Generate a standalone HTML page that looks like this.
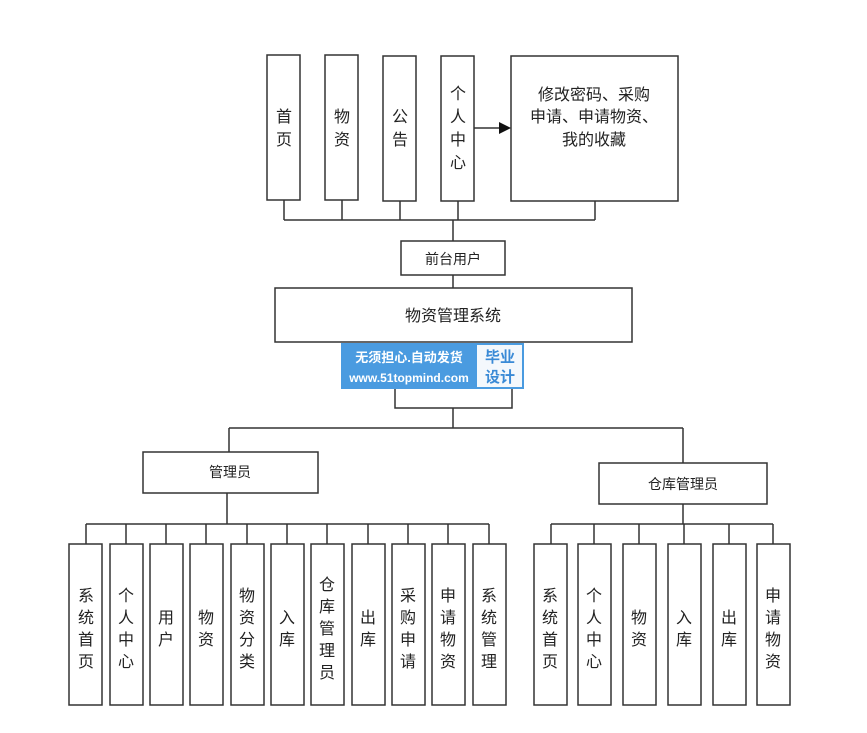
<!DOCTYPE html>
<html><head><meta charset="utf-8"><style>html,body{margin:0;padding:0;background:#fff}svg{display:block}</style></head>
<body>
<svg width="867" height="733" viewBox="0 0 867 733" xmlns="http://www.w3.org/2000/svg" font-family="'Liberation Sans','Noto Sans CJK SC',sans-serif" font-size="16" fill="#222">
<g stroke="#333" stroke-width="1.5" fill="#fff">
<rect x="267" y="55" width="33" height="145"/>
<rect x="325" y="55" width="33" height="145"/>
<rect x="383" y="56" width="33" height="145"/>
<rect x="441" y="56" width="33" height="145"/>
<rect x="511" y="56" width="167" height="145"/>
<rect x="401" y="241" width="104" height="34"/>
<rect x="275" y="288" width="357" height="54"/>
<rect x="143" y="452" width="175" height="41"/>
<rect x="599" y="463" width="168" height="41"/>
</g>
<g stroke="#333" stroke-width="1.5" fill="none">
<path d="M284 200V220M342 200V220M400 201V220M458 201V220M595 201V220M284 220H595M453 220V241M453 275V288"/>
<path d="M474 128H500"/>
<path d="M395 389V408H512V389M453 408V428M229 428H683M229 428V452M683 428V463"/>
<path d="M227 493V524M86 524H489M683 504V524M551 524H773"/>
<path d="M86 524V544M126 524V544M166 524V544M206 524V544M247 524V544M287 524V544M327 524V544M368 524V544M408 524V544M448 524V544M489 524V544"/>
<path d="M551 524V544M594 524V544M639 524V544M684 524V544M729 524V544M773 524V544"/>
</g>
<path d="M511 128L499 122V134Z" fill="#111"/>
<g stroke="#333" stroke-width="1.5" fill="#fff">
<rect x="69" y="544" width="33" height="161"/><rect x="110" y="544" width="33" height="161"/><rect x="150" y="544" width="33" height="161"/><rect x="190" y="544" width="33" height="161"/><rect x="231" y="544" width="33" height="161"/><rect x="271" y="544" width="33" height="161"/><rect x="311" y="544" width="33" height="161"/><rect x="352" y="544" width="33" height="161"/><rect x="392" y="544" width="33" height="161"/><rect x="432" y="544" width="33" height="161"/><rect x="473" y="544" width="33" height="161"/>
<rect x="534" y="544" width="33" height="161"/><rect x="578" y="544" width="33" height="161"/><rect x="623" y="544" width="33" height="161"/><rect x="668" y="544" width="33" height="161"/><rect x="713" y="544" width="33" height="161"/><rect x="757" y="544" width="33" height="161"/>
</g>
<rect x="341" y="343" width="183" height="46" fill="#4a9be0"/>
<rect x="477" y="345" width="45" height="42" fill="#f4f8fc"/>
<text x="409" y="362" fill="#fff" font-size="13" font-weight="bold" text-anchor="middle">无须担心.自动发货</text>
<text x="409" y="382" fill="#fff" font-size="12" font-weight="bold" text-anchor="middle">www.51topmind.com</text>
<text x="500" y="362" fill="#3a8ad6" font-size="15" font-weight="bold" text-anchor="middle">毕业</text>
<text x="500" y="382" fill="#3a8ad6" font-size="15" font-weight="bold" text-anchor="middle">设计</text>
<g text-anchor="middle">
<text x="594" y="100">修改密码、采购</text>
<text x="594" y="122">申请、申请物资、</text>
<text x="594" y="145">我的收藏</text>
<text x="453" y="264" font-size="14">前台用户</text>
<text x="453" y="321">物资管理系统</text>
<text x="230" y="477" font-size="14">管理员</text>
<text x="683" y="489" font-size="14">仓库管理员</text>
</g>
<g text-anchor="middle">
<text x="284" y="122">首</text><text x="284" y="145">页</text>
<text x="342" y="122">物</text><text x="342" y="145">资</text>
<text x="400" y="122">公</text><text x="400" y="145">告</text>
<text x="458" y="99">个</text><text x="458" y="122">人</text><text x="458" y="145">中</text><text x="458" y="168">心</text>
</g>
<g text-anchor="middle">
<text x="86" y="601">系</text><text x="86" y="623">统</text><text x="86" y="645">首</text><text x="86" y="667">页</text>
<text x="126" y="601">个</text><text x="126" y="623">人</text><text x="126" y="645">中</text><text x="126" y="667">心</text>
<text x="166" y="623">用</text><text x="166" y="645">户</text>
<text x="206" y="623">物</text><text x="206" y="645">资</text>
<text x="247" y="601">物</text><text x="247" y="623">资</text><text x="247" y="645">分</text><text x="247" y="667">类</text>
<text x="287" y="623">入</text><text x="287" y="645">库</text>
<text x="327" y="590">仓</text><text x="327" y="612">库</text><text x="327" y="634">管</text><text x="327" y="656">理</text><text x="327" y="678">员</text>
<text x="368" y="623">出</text><text x="368" y="645">库</text>
<text x="408" y="601">采</text><text x="408" y="623">购</text><text x="408" y="645">申</text><text x="408" y="667">请</text>
<text x="448" y="601">申</text><text x="448" y="623">请</text><text x="448" y="645">物</text><text x="448" y="667">资</text>
<text x="489" y="601">系</text><text x="489" y="623">统</text><text x="489" y="645">管</text><text x="489" y="667">理</text>
<text x="550" y="601">系</text><text x="550" y="623">统</text><text x="550" y="645">首</text><text x="550" y="667">页</text>
<text x="594" y="601">个</text><text x="594" y="623">人</text><text x="594" y="645">中</text><text x="594" y="667">心</text>
<text x="639" y="623">物</text><text x="639" y="645">资</text>
<text x="684" y="623">入</text><text x="684" y="645">库</text>
<text x="729" y="623">出</text><text x="729" y="645">库</text>
<text x="773" y="601">申</text><text x="773" y="623">请</text><text x="773" y="645">物</text><text x="773" y="667">资</text>
</g>
</svg>
</body></html>
